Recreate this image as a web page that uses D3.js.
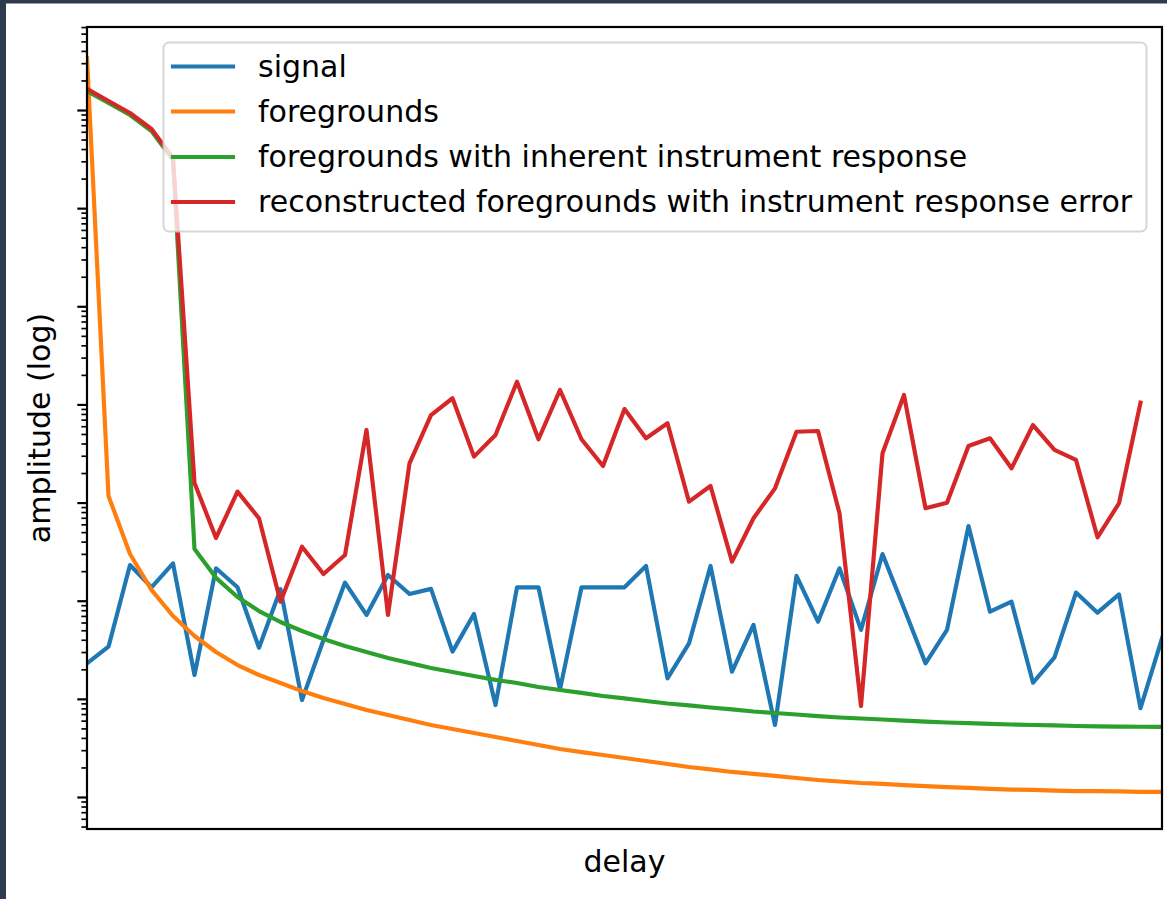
<!DOCTYPE html>
<html>
<head>
<meta charset="utf-8">
<script src="https://cdn.jsdelivr.net/npm/d3@7"></script>
<style>
  html, body { margin: 0; padding: 0; background: #ffffff; }
  svg { display: block; }
</style>
</head>
<body>
<div id="chart"></div>
<script>
// ---------- data ----------
const seriesNames = [
  "signal",
  "foregrounds",
  "foregrounds with inherent instrument response",
  "reconstructed foregrounds with instrument response error"
];
const seriesColors = ["#1f77b4", "#ff7f0e", "#2ca02c", "#d62728"];

const signal = [23.0, 34.0, 231, 137, 240, 17.5, 214, 137, 33.2, 131,
  9.73, 39.8, 153, 71.6, 183, 117, 132, 30.3, 73.3, 8.65,
  137, 137, 12.5, 137, 137, 137, 226, 16.2, 36.8, 226,
  18.9, 56.6, 5.42, 179, 61.1, 214, 50.4, 299, 83.8, 23.0,
  50.4, 577, 77.3, 97.7, 14.6, 26.5, 121, 75.5, 116, 8.02, 41.4];

const foregrounds = [3.39e7, 1167, 299, 129, 69.9, 43.7, 30.0, 22.1, 17.5, 14.5,
  12.0, 10.2, 8.87, 7.69, 6.85, 6.09, 5.42, 4.93, 4.49, 4.08,
  3.72, 3.39, 3.08, 2.87, 2.68, 2.50, 2.33, 2.17, 2.02, 1.91,
  1.80, 1.72, 1.64, 1.56, 1.49, 1.44, 1.39, 1.36, 1.32, 1.29,
  1.26, 1.24, 1.21, 1.19, 1.18, 1.16, 1.15, 1.15, 1.14, 1.13, 1.13];

const foregroundsInstr = [1.56e7, 1.18e7, 8.89e6, 6.11e6, 3.10e6, 336, 171, 109, 78.5, 60.7,
  49.1, 40.7, 34.6, 30.0, 26.1, 23.2, 20.6, 18.8, 17.1, 15.6,
  14.5, 13.2, 12.3, 11.5, 10.7, 10.1, 9.51, 8.97, 8.57, 8.17,
  7.80, 7.43, 7.18, 6.93, 6.68, 6.46, 6.31, 6.16, 6.01, 5.87,
  5.74, 5.65, 5.55, 5.48, 5.42, 5.36, 5.29, 5.25, 5.22, 5.20, 5.19];

const reconstructed = [1.64e7, 1.236e7, 9.33e6, 6.41e6, 3.24e6, 1585, 436, 1291, 692, 97.7,
  355, 187, 292, 5495, 71.6, 2512, 7798, 11560, 2938, 4887,
  17060, 4416, 14030, 4416, 2360, 8974, 4519, 6427, 1021, 1476,
  250, 692, 1396, 5272, 5358, 778, 8.45, 3177, 12470, 875,
  998, 3776, 4519, 2234, 6166, 3436, 2716, 443, 984, 10420];

const yDomain = [0.472, 7.01e7];
const xDomain = [0, 50];
const majorTicks = [1e0, 1e1, 1e2, 1e3, 1e4, 1e5, 1e6, 1e7];
const minorMultipliers = [2, 3, 4, 5, 6, 7, 8, 9];
const xLabel = "delay";
const yLabel = "amplitude (log)";

// ---------- layout ----------
const W = 1167, H = 899;
const plot = { left: 87, right: 1162, top: 27, bottom: 829 };
const FONT = "'DejaVu Sans', 'Liberation Sans', sans-serif";
const FS = 30;
const LW = 4.17;

const svg = d3.select("#chart").append("svg")
  .attr("width", W).attr("height", H)
  .attr("viewBox", `0 0 ${W} ${H}`);

svg.append("rect").attr("width", W).attr("height", H).attr("fill", "#ffffff");
// dark frame on top and left edges
svg.append("rect").attr("x", 0).attr("y", 0).attr("width", W).attr("height", 3.5).attr("fill", "#2e3b4e");
svg.append("rect").attr("x", 0).attr("y", 0).attr("width", 6).attr("height", H).attr("fill", "#2e3b4e");

const x = d3.scaleLinear().domain(xDomain).range([plot.left, plot.right]);
const y = d3.scaleLog().domain(yDomain).range([plot.bottom, plot.top]);

svg.append("clipPath").attr("id", "clip")
  .append("rect")
  .attr("x", plot.left).attr("y", plot.top)
  .attr("width", plot.right - plot.left).attr("height", plot.bottom - plot.top);

// lines
const allSeries = [signal, foregrounds, foregroundsInstr, reconstructed];
const line = d3.line().x((d, i) => x(i)).y(d => y(d));
const gLines = svg.append("g").attr("clip-path", "url(#clip)");
allSeries.forEach((s, k) => {
  gLines.append("path")
    .datum(s)
    .attr("d", line)
    .attr("fill", "none")
    .attr("stroke", seriesColors[k])
    .attr("stroke-width", LW)
    .attr("stroke-linejoin", "round")
    .attr("stroke-linecap", "square");
});

// y axis ticks (major + minor), no labels
const minorTicks = [];
for (let e = -1; e <= 7; e++) {
  minorMultipliers.forEach(m => {
    const v = m * Math.pow(10, e);
    if (v >= yDomain[0] && v <= yDomain[1]) minorTicks.push(v);
  });
}
const gMajor = svg.append("g").attr("transform", `translate(${plot.left},0)`)
  .call(d3.axisLeft(y).tickValues(majorTicks).tickFormat("").tickSizeOuter(0).tickSizeInner(9.7));
gMajor.select(".domain").remove();
gMajor.selectAll(".tick line").attr("stroke", "#000").attr("stroke-width", 2.2);

const gMinor = svg.append("g").attr("transform", `translate(${plot.left},0)`)
  .call(d3.axisLeft(y).tickValues(minorTicks).tickFormat("").tickSizeOuter(0).tickSizeInner(5.6));
gMinor.select(".domain").remove();
gMinor.selectAll(".tick line").attr("stroke", "#000").attr("stroke-width", 1.67);

// spines
svg.append("rect")
  .attr("x", plot.left).attr("y", plot.top)
  .attr("width", plot.right - plot.left).attr("height", plot.bottom - plot.top)
  .attr("fill", "none").attr("stroke", "#000").attr("stroke-width", 2.2);

// axis labels
svg.append("text")
  .attr("x", (plot.left + plot.right) / 2).attr("y", 872)
  .attr("text-anchor", "middle")
  .attr("font-family", FONT).attr("font-size", FS).attr("fill", "#000")
  .text(xLabel);

svg.append("text")
  .attr("transform", `translate(50,${(plot.top + plot.bottom) / 2}) rotate(-90)`)
  .attr("text-anchor", "middle")
  .attr("font-family", FONT).attr("font-size", FS).attr("fill", "#000")
  .text(yLabel);

// legend
const leg = svg.append("g");
leg.append("rect")
  .attr("x", 163.5).attr("y", 42.5)
  .attr("width", 1146.5 - 163.5).attr("height", 231.5 - 42.5)
  .attr("rx", 5.5).attr("ry", 5.5)
  .attr("fill", "#ffffff").attr("fill-opacity", 0.8)
  .attr("stroke", "#cccccc").attr("stroke-opacity", 0.8).attr("stroke-width", 2);

const rowY = [66.5, 111.5, 157, 202];
seriesNames.forEach((name, k) => {
  leg.append("line")
    .attr("x1", 173).attr("x2", 233)
    .attr("y1", rowY[k]).attr("y2", rowY[k])
    .attr("stroke", seriesColors[k]).attr("stroke-width", LW)
    .attr("stroke-linecap", "square");
  leg.append("text")
    .attr("x", 258).attr("y", rowY[k] + 10)
    .attr("font-family", FONT).attr("font-size", FS).attr("fill", "#000")
    .text(name);
});
</script>
</body>
</html>
